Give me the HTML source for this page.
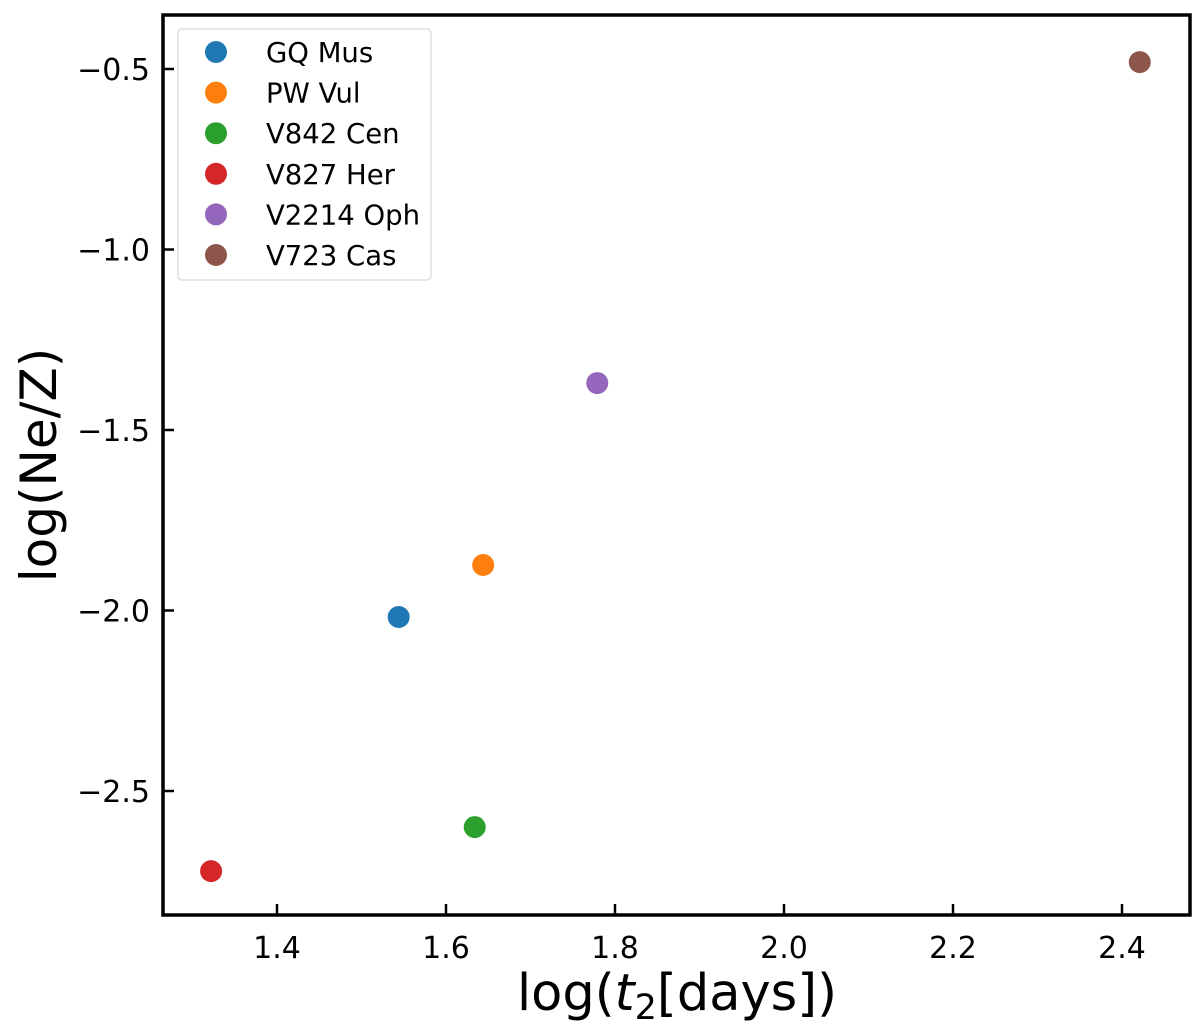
<!DOCTYPE html>
<html><head><meta charset="utf-8"><style>body{margin:0;background:#fff}svg{display:block}text{font-family:"DejaVu Sans","Liberation Sans",sans-serif}</style></head>
<body>
<svg id="chart" width="1200" height="1027" xmlns="http://www.w3.org/2000/svg"></svg>
<script>
const names=["GQ Mus","PW Vul","V842 Cen","V827 Her","V2214 Oph","V723 Cas"];
const xVals=[1.544,1.644,1.634,1.322,1.779,2.421];
const yVals=[-2.018,-1.874,-2.600,-2.722,-1.370,-0.481];
const colors=["#1f77b4","#ff7f0e","#2ca02c","#d62728","#9467bd","#8c564b"];
const xTicks=[1.4,1.6,1.8,2.0,2.2,2.4];
const yTicks=[-0.5,-1.0,-1.5,-2.0,-2.5];
const L=163,R=1190,T=15,B=915;
const X=v=>277+(v-1.4)*845;
const Y=v=>69+(-0.5-v)*361;
const svg=document.getElementById('chart');
const NS="http://www.w3.org/2000/svg";
function mk(t,a,p){const e=document.createElementNS(NS,t);for(const k in a)e.setAttribute(k,a[k]);(p||svg).appendChild(e);return e;}
xTicks.forEach(v=>{
 const l=mk('line',{x1:X(v),x2:X(v),y1:B,y2:B-11,stroke:'#000','stroke-width':2.5});
 
 
 const t=mk('text',{x:X(v),y:958,'text-anchor':'middle','font-size':30});
 t.textContent=v.toFixed(1);
 
 
});
yTicks.forEach(v=>{
 const l=mk('line',{x1:L,x2:L+11,y1:Y(v),y2:Y(v),stroke:'#000','stroke-width':2.5});
 
 
 const t=mk('text',{x:150,y:Y(v)+11,'text-anchor':'end','font-size':30});
 t.textContent='\u2212'+Math.abs(v).toFixed(1);
 
 
});
names.forEach((n,i)=>{
 const c=mk('circle',{cx:X(xVals[i]),cy:Y(yVals[i]),r:11,fill:colors[i]});
 
 
});
const fr=mk('rect',{x:L,y:T,width:R-L,height:B-T,fill:'none',stroke:'#000','stroke-width':3.5});


const lg=mk('g',{});


mk('rect',{x:178,y:29,width:253,height:251,rx:4,fill:'#fff','fill-opacity':0.8,stroke:'#ddd','stroke-width':1.5},lg);
names.forEach((n,i)=>{
 const y=52+i*40.6;
 const c=mk('circle',{cx:216,cy:y,r:11,fill:colors[i]},lg);
 
 
 const t=mk('text',{x:266,y:y+10,'font-size':27.5},lg);
 t.textContent=n;
 
 
});
const xl=mk('text',{x:677,y:1010,'text-anchor':'middle','font-size':51});
xl.innerHTML='log(<tspan font-style="italic">t</tspan><tspan font-size="35" dy="9">2</tspan><tspan dy="-9">[days])</tspan>';


const yl=mk('text',{x:0,y:0,'text-anchor':'middle','font-size':50,transform:'translate(56,465) rotate(-90)'});
yl.textContent='log(Ne/Z)';


</script>
</body></html>
